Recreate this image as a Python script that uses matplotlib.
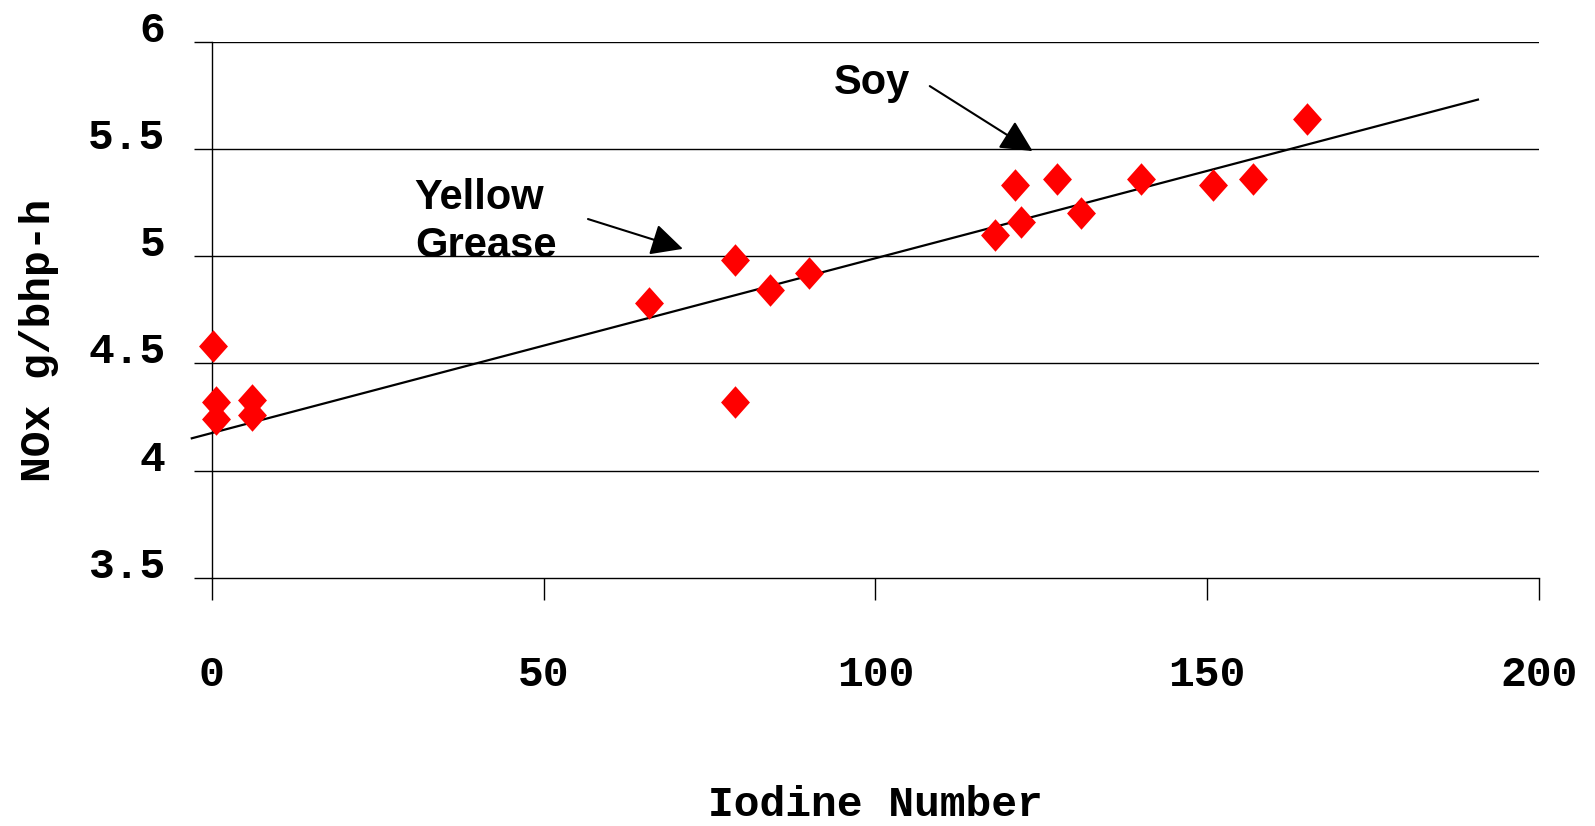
#!/usr/bin/env python3
"""NOx emissions vs iodine number of the biodiesel feedstock."""
import matplotlib
matplotlib.use("Agg")
import matplotlib.pyplot as plt
from matplotlib.path import Path

# measured points (iodine number, NOx g/bhp-h)
iodine = [0.2, 0.7, 0.7, 6.0, 6.0, 65.9, 78.9, 78.9, 84.1, 90.0,
          118.1, 121.1, 122.0, 127.4, 131.0, 140.1, 150.9, 156.9, 165.0]
nox = [4.58, 4.32, 4.24, 4.33, 4.26, 4.78, 4.98, 4.32, 4.84, 4.92,
       5.10, 5.33, 5.16, 5.36, 5.20, 5.36, 5.33, 5.36, 5.64]

# linear trend: nox = fit_b + fit_m * iodine
fit_b = 4.175
fit_m = 0.00815
fit_span = [-3.0, 190.8]

x_ticks = [0, 50, 100, 150, 200]
y_ticks = [3.5, 4, 4.5, 5, 5.5, 6]
y_tick_labels = ["3.5", "4", "4.5", "5", "5.5", "6"]

MONO = ["Liberation Mono", "DejaVu Sans Mono"]
SANS = ["Liberation Sans", "DejaVu Sans"]

W, H = 1595, 826
fig = plt.figure(figsize=(W / 100, H / 100), dpi=100)
x0, x1, y_top, y_bot = 211.7, 1539.0, 41.7, 577.8
ax = fig.add_axes([x0 / W, 1 - y_bot / H, (x1 - x0) / W, (y_bot - y_top) / H])

# slightly tall diamond marker
diamond = Path([(0, 1), (0.89, 0), (0, -1), (-0.89, 0), (0, 1)],
               [Path.MOVETO, Path.LINETO, Path.LINETO, Path.LINETO, Path.CLOSEPOLY])

fit_y = [fit_b + fit_m * v for v in fit_span]
ax.plot(fit_span, fit_y, color="black", lw=1.6, clip_on=False, zorder=3)
ax.plot(iodine, nox, linestyle="none", marker=diamond, ms=23.4,
        color="#ff0000", markeredgewidth=0, zorder=4, clip_on=False)

ax.set_xlim(0, 200)
ax.set_ylim(3.5, 6)
for y in y_ticks[1:]:
    ax.axhline(y, color="black", lw=1.0, zorder=1)

for s in ("top", "right"):
    ax.spines[s].set_visible(False)
for s in ("left", "bottom"):
    ax.spines[s].set_linewidth(1.0)

ax.set_xticks(x_ticks)
ax.set_xticklabels([str(v) for v in x_ticks], family=MONO, fontweight="bold", fontsize=31)
ax.set_yticks(y_ticks)
ax.set_yticklabels(y_tick_labels, family=MONO, fontweight="bold", fontsize=31, va="baseline")
ax.tick_params(axis="x", direction="out", length=15.5, width=1.0, pad=40)
ax.tick_params(axis="y", direction="out", length=13.2, width=1.0, pad=20)

ax.set_xlabel("Iodine Number", family=MONO, fontweight="bold", fontsize=31)
ax.xaxis.label.set_va("center")
ax.xaxis.set_label_coords(0.5, -0.423)
ax.set_ylabel("NOx g/bhp-h", family=MONO, fontweight="bold", fontsize=31)
ax.yaxis.label.set_va("center")
ax.yaxis.set_label_coords(-0.1303, 0.442)

arrow = dict(arrowstyle="-|>,head_length=0.7,head_width=0.35", mutation_scale=28,
             color="black", lw=1.5, shrinkA=0, shrinkB=0)
ax.annotate("", xy=(123.7, 5.490), xytext=(108.2, 5.793), arrowprops=arrow,
            annotation_clip=False)
ax.annotate("", xy=(71.0, 5.034), xytext=(56.7, 5.173), arrowprops=arrow,
            annotation_clip=False)
ax.text(93.8, 5.758, "Soy", family=SANS, fontweight="bold", fontsize=30,
        ha="left", va="baseline")
# baseline alignment of a two-line label anchors the last line
ax.text(30.6, 4.995, "Yellow\nGrease", family=SANS, fontweight="bold", fontsize=30,
        ha="left", va="baseline", linespacing=1.25)

fig.savefig("out.png", dpi=100, facecolor="white")
